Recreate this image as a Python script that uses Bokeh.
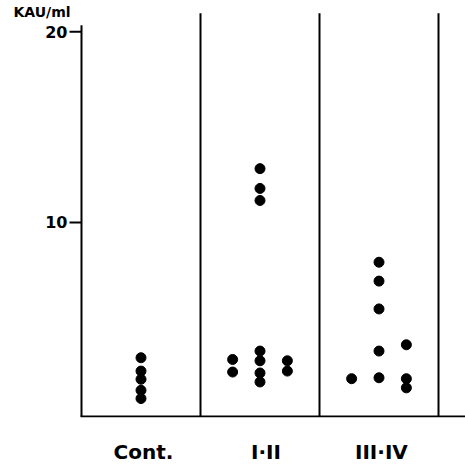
from bokeh.plotting import figure
from bokeh.models import FixedTicker, Range1d
from bokeh.core.properties import value
from bokeh.embed import file_html
from bokeh.resources import INLINE

# ---- data ----
groups = ["Cont.", "I·II", "III·IV"]
label_pos = [0.52, 1.55, 2.52]
y_ticks = [10, 20]
y_tick_labels = ["10", "20"]
unit_label = "KAU/ml"

# (group index, lane -1/0/1, value KAU/ml)
cont_vals = [2.90, 2.20, 1.77, 1.19, 0.76]
cont_lane = [0, 0, 0, 0, 0]
i_ii_vals = [2.81, 2.15, 12.82, 11.78, 11.15, 3.25, 2.74, 2.10, 1.63, 2.74, 2.20]
i_ii_lane = [-1, -1, 0, 0, 0, 0, 0, 0, 0, 1, 1]
iii_iv_vals = [1.80, 7.91, 6.92, 5.46, 3.25, 1.85, 3.58, 1.80, 1.32]
iii_iv_lane = [-1, 0, 0, 0, 0, 0, 1, 1, 1]

lane_step = 0.23
xs, ys = [], []
for gi, (vals, lanes) in enumerate([(cont_vals, cont_lane),
                                     (i_ii_vals, i_ii_lane),
                                     (iii_iv_vals, iii_iv_lane)]):
    for v, l in zip(vals, lanes):
        xs.append(gi + 0.5 + l * lane_step)
        ys.append(v)

FONT = "DejaVu Sans"
PX = 1 / 119.0          # one screen pixel in x data units
Y_LO, Y_HI = -0.235, 21.64
DIV_TOP = 20.97
AXIS_TOP = 20.34
BASE_Y = -0.183

p = figure(width=465, height=466, output_backend="svg", toolbar_location=None,
           x_range=Range1d(-81 * PX, 384 * PX), y_range=Range1d(Y_LO, Y_HI),
           min_border_left=0, min_border_right=0, min_border_top=0, min_border_bottom=47)
p.outline_line_color = None
p.grid.visible = False
p.background_fill_color = "white"
p.yaxis.visible = False

xa = p.xaxis[0]
xa.ticker = FixedTicker(ticks=label_pos)
xa.major_label_overrides = {t: s for t, s in zip(label_pos, groups)}
xa.axis_line_color = None
xa.major_tick_line_color = None
xa.minor_tick_line_color = None
xa.major_tick_out = 0
xa.major_tick_in = 0
xa.major_label_standoff = 22
xa.major_label_text_font = FONT
xa.major_label_text_font_style = "bold"
xa.major_label_text_font_size = "20px"
xa.major_label_text_color = "black"

# axis lines and column dividers
p.segment(x0=[0], y0=[BASE_Y], x1=[0], y1=[AXIS_TOP], line_color="black", line_width=2)
p.segment(x0=[-PX], y0=[BASE_Y], x1=[384 * PX], y1=[BASE_Y], line_color="black", line_width=2)
p.segment(x0=[1, 2, 3], y0=[BASE_Y] * 3, x1=[1, 2, 3], y1=[DIV_TOP] * 3,
          line_color="black", line_width=2)

# y ticks and tick labels
p.segment(x0=[-12 * PX] * len(y_ticks), y0=y_ticks, x1=[0] * len(y_ticks), y1=y_ticks,
          line_color="black", line_width=2)
p.text(x=[-14 * PX] * len(y_ticks), y=y_ticks, text=y_tick_labels,
       text_font=value(FONT), text_font_style="bold", text_font_size="16px",
       text_align="right", text_baseline="middle", text_color="black")

# unit label
p.text(x=[-68 * PX], y=[21.04], text=[unit_label],
       text_font=value(FONT), text_font_style="bold", text_font_size="14px",
       text_align="left", text_baseline="middle", text_color="black")

p.scatter(xs, ys, size=10, color="black")

open("out.html", "w").write(file_html(p, INLINE))
